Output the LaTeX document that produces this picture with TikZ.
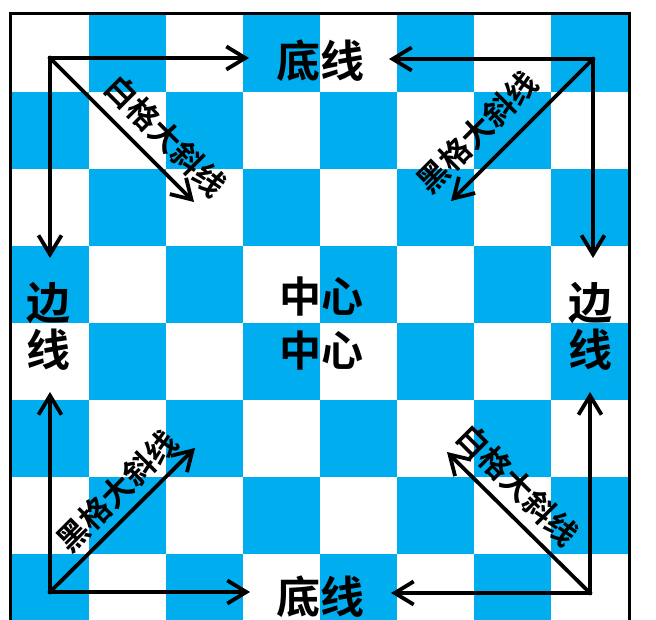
\documentclass[tikz,border=0pt]{standalone}
\usepackage{fontspec}
\newfontfamily\cjk{Noto Sans CJK SC}[BoldFont={Noto Sans CJK SC Bold}]
\usetikzlibrary{arrows.meta}
\definecolor{boardblue}{RGB}{0,174,239}
\begin{document}
\begin{tikzpicture}[x=1pt,y=-1pt,
  arr/.style={line width=3.8pt, -{Straight Barb[length=19pt,width=23pt]}},
  big/.style={font=\cjk\bfseries\fontsize{44}{47}\selectfont, inner sep=0pt, align=center},
  diaglabel/.style={font=\cjk\bfseries\fontsize{31}{31}\selectfont, inner sep=0pt},
]
\useasboundingbox (0,0) rectangle (656,620);
\begin{scope}
\clip (0,0) rectangle (656,620);
\foreach \i in {0,...,7}{\foreach \j in {0,...,7}{
  \pgfmathparse{int(mod(\i+\j,2))}
  \ifnum\pgfmathresult=1 \fill[boardblue] (12+77*\i,15+77*\j) rectangle ++(77,77); \fi
}}
\draw[line width=3pt] (10.5,660) -- (10.5,13.5) -- (629.5,13.5) -- (629.5,660);
\end{scope}
% corners and arrow ends
\coordinate (tl) at (50,58);
\coordinate (tlh) at (249,58);
\coordinate (tlv) at (50,258);
\coordinate (tld) at (194,202);
\coordinate (tr) at (593,59);
\coordinate (trh) at (389,59);
\coordinate (trv) at (593,258);
\coordinate (trd) at (451,201);
\coordinate (bl) at (50,592);
\coordinate (blh) at (250,592);
\coordinate (blv) at (50,392);
\coordinate (bld) at (195,448);
\coordinate (br) at (590,593);
\coordinate (brh) at (391,593);
\coordinate (brv) at (590,392);
\coordinate (brd) at (447,452);
\begin{scope}[line cap=rect]
\draw[arr] (tl) -- (tlh);
\draw[arr] (tl) -- (tlv);
\draw[arr] (tl) -- (tld);
\draw[arr] (tr) -- (trh);
\draw[arr] (tr) -- (trv);
\draw[arr] (tr) -- (trd);
\draw[arr] (bl) -- (blh);
\draw[arr] (bl) -- (blv);
\draw[arr] (bl) -- (bld);
\draw[arr] (br) -- (brh);
\draw[arr] (br) -- (brv);
\draw[arr] (br) -- (brd);
\end{scope}
% labels
\node[big] (top) at (320,61) {底线};
\node[big] (bottom) at (320,597) {底线};
\node[big] (left) at (48,326) {边\\线};
\node[big] (right) at (590,326) {边\\线};
\node[big, font=\cjk\bfseries\fontsize{42}{54}\selectfont] (center) at (321,324) {中心\\中心};
\node[diaglabel, rotate=-45] (dtl) at (166,136) {白格大斜线};
\node[diaglabel, rotate=45] (dtr) at (477,132) {黑格大斜线};
\node[diaglabel, rotate=45] (dbl) at (117,491) {黑格大斜线};
\node[diaglabel, rotate=-45] (dbr) at (518,485) {白格大斜线};
\end{tikzpicture}
\end{document}
